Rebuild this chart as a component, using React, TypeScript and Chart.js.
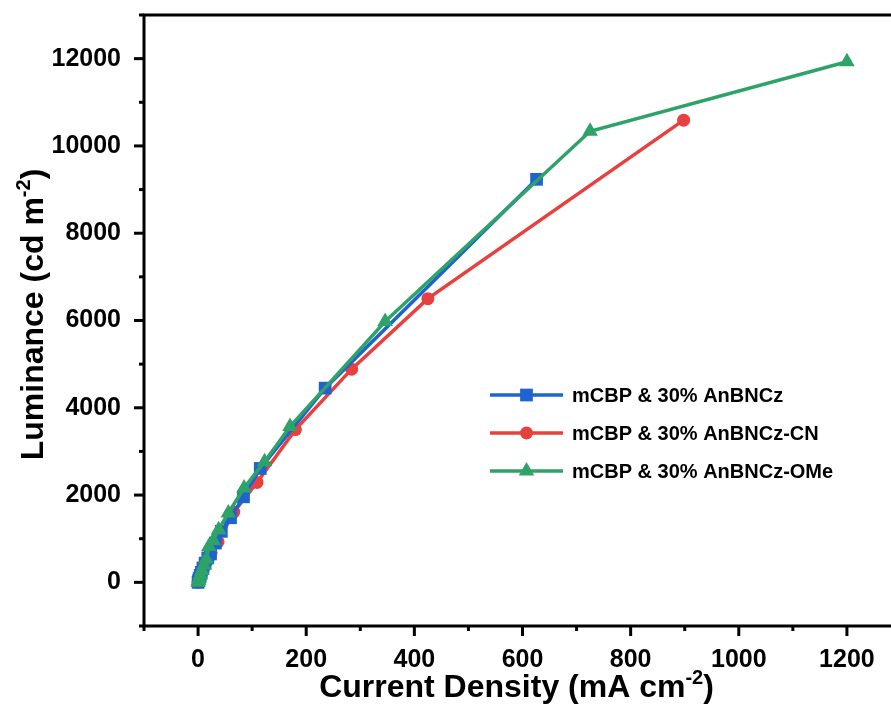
import React, { useEffect, useRef } from "react";
import { Chart, registerables } from "chart.js";

Chart.register(...registerables);

// ---- data ----
const seriesNames = ["mCBP & 30% AnBNCz", "mCBP & 30% AnBNCz-CN", "mCBP & 30% AnBNCz-OMe"];
const seriesColors = ["#1F63D2", "#E8403F", "#2EA368"];

const blueX = [0, 1, 2, 4, 6, 9, 13, 18, 23, 32, 43, 60, 84, 115, 235, 626];
const blueY = [0, 40, 90, 160, 230, 330, 440, 560, 650, 900, 1170, 1480, 1960, 2610, 4450, 9235];

const redX = [0, 1, 2, 4, 7, 11, 16, 24, 37, 66, 109, 180, 284, 425, 898];
const redY = [0, 30, 70, 140, 230, 340, 480, 680, 930, 1610, 2290, 3500, 4885, 6500, 10590];

const greenX = [0, 1, 2, 4, 7, 11, 15, 20, 28, 38, 56, 85, 123, 170, 346, 725, 1200];
const greenY = [0, 40, 90, 170, 270, 400, 530, 820, 960, 1206, 1590, 2160, 2765, 3570, 5976, 10336, 11930];

const xMin = -100, xMax = 1300, xMinorStep = 100, xMajorStep = 200;
const yMin = -1000, yMax = 13000, yMinorStep = 1000, yMajorStep = 2000;

const xTitle = ["Current Density (mA cm", "-2", ")"];
const yTitle = ["Luminance (cd m", "-2", ")"];

const FONT = "'Liberation Sans', Arial, sans-serif";

function pts(xs: number[], ys: number[]) {
  return xs.map((x, i) => ({ x, y: ys[i] }));
}

function drawSupText(ctx: CanvasRenderingContext2D, parts: string[], cx: number, baseY: number, size: number, supSize: number) {
  ctx.font = `bold ${size}px ${FONT}`;
  const w0 = ctx.measureText(parts[0]).width;
  const w2 = ctx.measureText(parts[2]).width;
  ctx.font = `bold ${supSize}px ${FONT}`;
  const w1 = ctx.measureText(parts[1]).width;
  const total = w0 + w1 + w2;
  let x = cx - total / 2;
  ctx.textAlign = "left";
  ctx.textBaseline = "alphabetic";
  ctx.font = `bold ${size}px ${FONT}`;
  ctx.fillText(parts[0], x, baseY);
  x += w0;
  ctx.font = `bold ${supSize}px ${FONT}`;
  ctx.fillText(parts[1], x, baseY - size * 0.42);
  x += w1;
  ctx.font = `bold ${size}px ${FONT}`;
  ctx.fillText(parts[2], x, baseY);
}

function drawMarker(ctx: CanvasRenderingContext2D, style: string, x: number, y: number, r: number, color: string) {
  ctx.fillStyle = color;
  ctx.beginPath();
  if (style === "rect") {
    const s = r / Math.SQRT2;
    ctx.rect(x - s, y - s, 2 * s, 2 * s);
  } else if (style === "circle") {
    ctx.arc(x, y, r, 0, Math.PI * 2);
  } else {
    const h = r * Math.sqrt(3) / 2;
    ctx.moveTo(x, y - r);
    ctx.lineTo(x + h, y + r / 2);
    ctx.lineTo(x - h, y + r / 2);
    ctx.closePath();
  }
  ctx.fill();
}

const pointStyles = ["rect", "circle", "triangle"];
const pointRadii = [9, 6.5, 9];

const decorPlugin = {
  id: "decor",
  afterDraw(chart: any) {
    const { ctx, chartArea: a, scales } = chart;
    const xs = scales.x, ys = scales.y;
    ctx.save();
    ctx.strokeStyle = "#000";
    ctx.lineWidth = 3;
    ctx.lineJoin = "miter";
    ctx.beginPath();
    ctx.moveTo(a.left, a.bottom);
    ctx.lineTo(a.left, a.top);
    ctx.lineTo(a.right, a.top);
    ctx.lineTo(a.right, a.bottom);
    ctx.closePath();
    ctx.stroke();

    ctx.lineWidth = 3;
    for (let v = yMin; v <= yMax; v += yMinorStep) {
      const py = ys.getPixelForValue(v);
      const len = v % yMajorStep === 0 ? 10 : 5;
      ctx.beginPath();
      ctx.moveTo(a.left - len, py);
      ctx.lineTo(a.left, py);
      ctx.stroke();
    }
    for (let v = xMin; v <= xMax; v += xMinorStep) {
      const px = xs.getPixelForValue(v);
      const len = v % xMajorStep === 0 ? 10 : 5;
      ctx.beginPath();
      ctx.moveTo(px, a.bottom);
      ctx.lineTo(px, a.bottom + len);
      ctx.stroke();
    }

    // axis titles
    ctx.fillStyle = "#000";
    drawSupText(ctx, xTitle, (a.left + a.right) / 2 - 6, 697, 32, 20);
    ctx.save();
    ctx.translate(43, (a.top + a.bottom) / 2 - 6);
    ctx.rotate(-Math.PI / 2);
    drawSupText(ctx, yTitle, 0, 0, 32, 20);
    ctx.restore();

    // legend
    const lx0 = 490, lx1 = 563, tx = 572;
    const rowsY = [395, 433, 471];
    for (let i = 0; i < seriesNames.length; i++) {
      const yy = rowsY[i];
      ctx.strokeStyle = seriesColors[i];
      ctx.lineWidth = 3.5;
      ctx.beginPath();
      ctx.moveTo(lx0, yy);
      ctx.lineTo(lx1, yy);
      ctx.stroke();
      drawMarker(ctx, pointStyles[i], (lx0 + lx1) / 2, yy, pointRadii[i], seriesColors[i]);
      ctx.fillStyle = "#000";
      ctx.font = `bold 20px ${FONT}`;
      ctx.textAlign = "left";
      ctx.textBaseline = "middle";
      ctx.fillText(seriesNames[i], tx, yy + 1);
    }
    ctx.restore();
  },
};

export default function App() {
  const ref = useRef<HTMLCanvasElement | null>(null);
  useEffect(() => {
    if (!ref.current) return;
    const data = [pts(blueX, blueY), pts(redX, redY), pts(greenX, greenY)];
    const orders = [1, 2, 0];
    const chart = new Chart(ref.current, {
      type: "scatter",
      data: {
        datasets: data.map((d, i) => ({
          label: seriesNames[i],
          data: d,
          showLine: true,
          tension: 0,
          borderColor: seriesColors[i],
          backgroundColor: seriesColors[i],
          borderWidth: 3.5,
          pointStyle: pointStyles[i] as any,
          pointRadius: pointRadii[i],
          pointBorderWidth: 0,
          pointHoverRadius: pointRadii[i],
          order: orders[i],
        })),
      },
      options: {
        animation: false,
        responsive: true,
        maintainAspectRatio: false,
        layout: { padding: { top: 15, right: 4, left: 0, bottom: 0 } },
        plugins: { legend: { display: false }, tooltip: { enabled: false } },
        scales: {
          x: {
            type: "linear",
            min: xMin,
            max: xMax,
            grid: { display: false, drawTicks: false },
            border: { display: false },
            ticks: {
              stepSize: xMinorStep,
              autoSkip: false,
              maxRotation: 0,
              includeBounds: false,
              padding: 19,
              color: "#000",
              font: { family: FONT, size: 25, weight: "bold" },
              callback: (v: any) => (Number(v) % xMajorStep === 0 ? String(v) : ""),
            },
            afterFit: (s: any) => {
              s.height = 99;
              s.paddingLeft = 0;
              s.paddingRight = 0;
              s.paddingTop = 0;
              s.paddingBottom = 0;
            },
          },
          y: {
            type: "linear",
            min: yMin,
            max: yMax,
            grid: { display: false, drawTicks: false },
            border: { display: false },
            ticks: {
              stepSize: yMinorStep,
              autoSkip: false,
              includeBounds: false,
              padding: 23,
              color: "#000",
              font: { family: FONT, size: 25, weight: "bold" },
              callback: (v: any) => (Number(v) % yMajorStep === 0 ? String(v) : ""),
            },
            afterFit: (s: any) => {
              s.width = 144;
              s.paddingLeft = 0;
              s.paddingRight = 0;
              s.paddingTop = 0;
              s.paddingBottom = 0;
            },
          },
        },
      },
      plugins: [decorPlugin],
    });
    return () => chart.destroy();
  }, []);

  return (
    <div style={{ position: "fixed", left: 0, top: 0, width: 891, height: 725, overflow: "hidden", background: "#fff" }}>
      <div style={{ position: "relative", width: 910, height: 725 }}>
        <canvas ref={ref} />
      </div>
    </div>
  );
}
